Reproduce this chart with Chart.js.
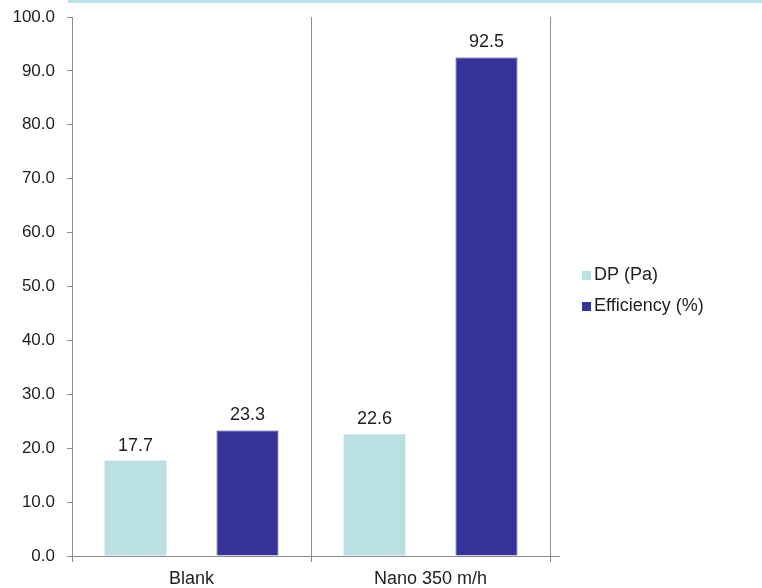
<!DOCTYPE html>
<html>
<head>
<meta charset="utf-8">
<script src="https://cdn.jsdelivr.net/npm/chart.js@4/dist/chart.umd.min.js"></script>
<style>
  html, body { margin: 0; padding: 0; background: #ffffff; }
  #wrap { position: relative; width: 762px; height: 588px; }
</style>
</head>
<body>
<div id="wrap"><canvas id="c"></canvas></div>
<script>
// Categories and series values
const categories = ['Blank', 'Nano 350 m/h'];
const dpValues = [17.7, 22.6];
const efficiencyValues = [23.3, 92.5];
const seriesLabels = ['DP (Pa)', 'Efficiency (%)'];
const yTicks = [0, 10, 20, 30, 40, 50, 60, 70, 80, 90, 100];

const FONT = '"Liberation Sans", Arial, sans-serif';
const TEXT = '#1e1e1e';
const AXIS = '#8c8c8c';
const COLORS = ['#BAE0E4', '#333399'];

// Thin accent band across the top of the page
const topBand = {
  id: 'topBand',
  beforeDraw(chart) {
    const ctx = chart.ctx;
    ctx.save();
    ctx.fillStyle = '#BDE3EA';
    ctx.fillRect(68, 0, chart.width - 68, 3);
    ctx.restore();
  }
};

// Value labels above each bar
const valueLabels = {
  id: 'valueLabels',
  afterDatasetsDraw(chart) {
    const ctx = chart.ctx;
    ctx.save();
    ctx.font = '18px ' + FONT;
    ctx.fillStyle = TEXT;
    ctx.textAlign = 'center';
    ctx.textBaseline = 'bottom';
    chart.data.datasets.forEach((ds, i) => {
      chart.getDatasetMeta(i).data.forEach((bar, j) => {
        ctx.fillText(ds.data[j].toFixed(1), bar.x, bar.y - 6);
      });
    });
    ctx.restore();
  }
};

// Legend drawn to the right of the plot
const sideLegend = {
  id: 'sideLegend',
  afterDraw(chart) {
    const ctx = chart.ctx;
    const x0 = chart.chartArea.right + 32;
    const yc = 275;
    ctx.save();
    ctx.font = '18px ' + FONT;
    ctx.textBaseline = 'middle';
    ctx.textAlign = 'left';
    chart.data.datasets.forEach((ds, i) => {
      const y = yc + i * 31;
      ctx.fillStyle = ds.backgroundColor;
      ctx.fillRect(x0, y - 4, 9, 9);
      ctx.fillStyle = TEXT;
      ctx.fillText(ds.label, x0 + 12, y);
    });
    ctx.restore();
  }
};

// Short extension of the category axis past the last boundary
const axisStub = {
  id: 'axisStub',
  afterDraw(chart) {
    const a = chart.chartArea;
    const ctx = chart.ctx;
    ctx.save();
    ctx.strokeStyle = AXIS;
    ctx.lineWidth = 1;
    ctx.beginPath();
    ctx.moveTo(a.right, Math.round(a.bottom) + 0.5);
    ctx.lineTo(a.right + 10, Math.round(a.bottom) + 0.5);
    ctx.stroke();
    ctx.restore();
  }
};

new Chart(document.getElementById('c'), {
  type: 'bar',
  data: {
    labels: categories,
    datasets: [
      { label: seriesLabels[0], data: dpValues, backgroundColor: COLORS[0],
        categoryPercentage: 0.937, barPercentage: 0.553 },
      { label: seriesLabels[1], data: efficiencyValues, backgroundColor: COLORS[1],
        borderColor: '#2b2b8a', borderWidth: 1,
        categoryPercentage: 0.937, barPercentage: 0.553 }
    ]
  },
  options: {
    responsive: true,
    maintainAspectRatio: false,
    animation: false,
    layout: { padding: { top: 17, right: 212, left: 0, bottom: 0 } },
    plugins: {
      legend: { display: false },
      tooltip: { enabled: false }
    },
    scales: {
      x: {
        grid: { display: true, offset: true, color: AXIS, lineWidth: 1, tickLength: 6, drawOnChartArea: true },
        border: { display: true, color: AXIS, width: 1 },
        ticks: { color: TEXT, font: { family: FONT, size: 18 }, padding: 6 },
        afterFit(scale) { scale.height = 32; scale.paddingLeft = 0; scale.paddingRight = 0; }
      },
      y: {
        min: 0,
        max: 100,
        afterBuildTicks(scale) { scale.ticks = yTicks.map(v => ({ value: v })); },
        grid: { drawOnChartArea: false, drawTicks: true, tickLength: 5, color: AXIS },
        border: { display: true, color: AXIS, width: 1 },
        ticks: {
          color: TEXT,
          font: { family: FONT, size: 17 },
          padding: 12,
          callback: v => Number(v).toFixed(1)
        },
        afterFit(scale) { scale.width = 72; scale.paddingTop = 0; scale.paddingBottom = 0; }
      }
    }
  },
  plugins: [topBand, valueLabels, sideLegend, axisStub]
});
</script>
</body>
</html>
